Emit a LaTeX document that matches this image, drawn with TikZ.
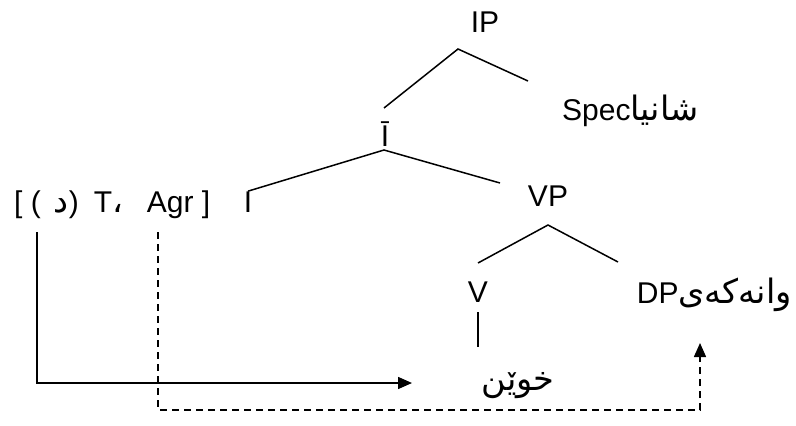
\documentclass[tikz,border=0pt]{standalone}
\usepackage{fontspec}
\setmainfont{Liberation Sans}
\newfontfamily\arabicfont[Script=Arabic,Scale=1.12]{DejaVu Sans}
\TeXXeTstate=1
\usetikzlibrary{arrows.meta}
\begin{document}
\begin{tikzpicture}[x=1pt,y=-1pt,
    every node/.style={font=\fontsize{30}{36}\selectfont, inner sep=0pt, anchor=base},
    branch/.style={line width=1.5pt},
    move/.style={line width=1.5pt, -{Triangle[length=14pt,width=12pt]}},
    copy/.style={move, dash pattern=on 7pt off 5pt}]
  \useasboundingbox (0,0) rectangle (796,426);

  % labels
  \node (ip) at (485,32) {IP};
  \node (ibar) at (385,146) {Ī};
  \node[anchor=base west] (spec) at (562,120) {Spec{\arabicfont\beginR شانیا\endR}};
  \node[anchor=base west] (feat) at (14,212)
    {[ (\hspace{13pt}{\arabicfont د})\hspace{15pt}T{\arabicfont ،}\hspace{24pt}Agr ]};
  \node (i) at (248,212) {I};
  \node (vp) at (548,206) {VP};
  \node (v) at (478,302) {V};
  \node[anchor=base east] (dp) at (792,303) {DP{\arabicfont\beginR وانەکەی\endR}};
  \node (xwen) at (518,390) {\arabicfont\fontsize{30}{36}\selectfont\beginR خوێن\endR};

  % branch points
  \coordinate (ipT) at (458,49);
  \coordinate (ipL) at (384,108);
  \coordinate (ipR) at (528,81);
  \coordinate (ibarT) at (384,150);
  \coordinate (ibarR) at (500,183);
  \coordinate (vpT) at (548,225);
  \coordinate (vpL) at (478,263);
  \coordinate (vpR) at (618,262);
  \coordinate (vT) at (478,312);
  \coordinate (vB) at (478,347);

  \draw[branch] (ipL) -- (ipT) -- (ipR);
  \draw[branch] (i.north) -- (ibarT) -- (ibarR);
  \draw[branch] (vpL) -- (vpT) -- (vpR);
  \draw[branch] (vT) -- (vB);

  % movement
  \coordinate (dStart) at (37,232);
  \coordinate (dEnd) at (412,383);
  \coordinate (agrStart) at (158,232);
  \coordinate (agrEnd) at (700,343);
  \draw[move] (dStart) |- (dEnd);
  \draw[copy] (agrStart) -- (158,410) -| (agrEnd);
\end{tikzpicture}
\end{document}
